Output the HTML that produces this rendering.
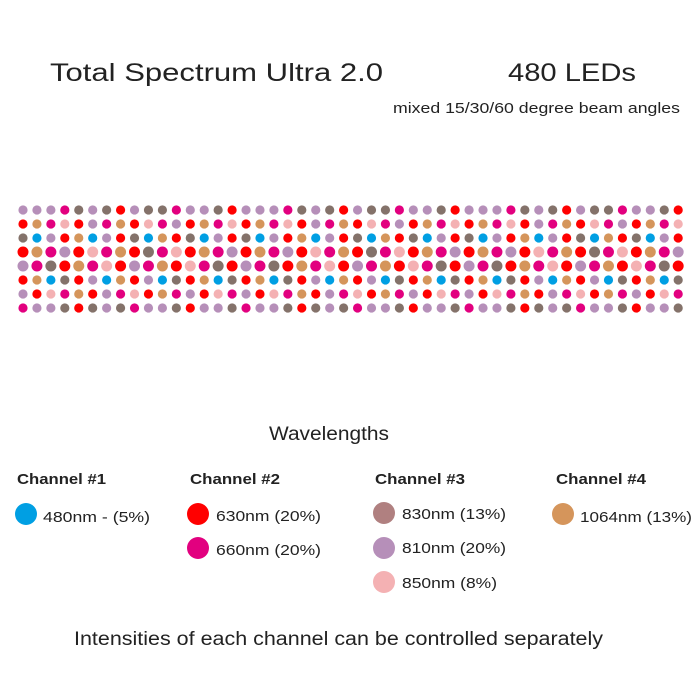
<!DOCTYPE html>
<html><head><meta charset="utf-8"><style>
body{margin:0;background:#fff;}
svg{display:block;font-family:"Liberation Sans",sans-serif;}
</style></head><body>
<svg width="700" height="700" viewBox="0 0 700 700">
<text x="50" y="81" font-size="25" fill="#222" textLength="333" lengthAdjust="spacingAndGlyphs">Total Spectrum Ultra 2.0</text>
<text x="508" y="81" font-size="25" fill="#222" textLength="128" lengthAdjust="spacingAndGlyphs">480 LEDs</text>
<text x="393" y="113" font-size="15" fill="#222" textLength="287" lengthAdjust="spacingAndGlyphs">mixed 15/30/60 degree beam angles</text>
<g id="grid"></g>
<text x="269" y="440" font-size="19" fill="#222" textLength="120" lengthAdjust="spacingAndGlyphs">Wavelengths</text>
<g font-weight="bold" font-size="15" fill="#222">
<text x="17" y="484" textLength="89" lengthAdjust="spacingAndGlyphs">Channel #1</text>
<text x="190" y="484" textLength="90" lengthAdjust="spacingAndGlyphs">Channel #2</text>
<text x="375" y="484" textLength="90" lengthAdjust="spacingAndGlyphs">Channel #3</text>
<text x="556" y="484" textLength="90" lengthAdjust="spacingAndGlyphs">Channel #4</text>
</g>
<g font-size="15" fill="#222">
<g><circle cx="26" cy="514" r="11" fill="#009fe3"/><text x="43" y="522" textLength="107" lengthAdjust="spacingAndGlyphs">480nm - (5%)</text></g>
<g><circle cx="198" cy="514" r="11" fill="#ff0000"/><text x="216" y="521" textLength="105" lengthAdjust="spacingAndGlyphs">630nm (20%)</text></g>
<g><circle cx="198" cy="548" r="11" fill="#e2007f"/><text x="216" y="555" textLength="105" lengthAdjust="spacingAndGlyphs">660nm (20%)</text></g>
<g><circle cx="384" cy="513" r="11" fill="#b08080"/><text x="402" y="519" textLength="104" lengthAdjust="spacingAndGlyphs">830nm (13%)</text></g>
<g><circle cx="384" cy="548" r="11" fill="#b68fb9"/><text x="402" y="553" textLength="104" lengthAdjust="spacingAndGlyphs">810nm (20%)</text></g>
<g><circle cx="384" cy="582" r="11" fill="#f4b1b3"/><text x="402" y="588" textLength="95" lengthAdjust="spacingAndGlyphs">850nm (8%)</text></g>
<g><circle cx="563" cy="514" r="11" fill="#d5955b"/><text x="580" y="522" textLength="112" lengthAdjust="spacingAndGlyphs">1064nm (13%)</text></g>
</g>
<text x="74" y="645" font-size="19" fill="#222" textLength="529" lengthAdjust="spacingAndGlyphs">Intensities of each channel can be controlled separately</text>
</svg>
<script>
const colors={L:"#b68fb9",M:"#e2007f",B:"#84726a",R:"#ff0000",O:"#d5955b",P:"#f4b1b3",C:"#009fe3"};
const rowPatterns=[
"LLLMBLBRLBBMLLBR",
"ROMPRLMORPMLROMP",
"BCLROCLRBCORBCLR",
"ROMLRPMORBMPROML",
"LMBROMPRLMORPMBR",
"ROCBRLCORLCBROCB",
"LRPMORLMPROMLRPM",
"MLLBRBLBMLLBRLLB"];
const repeats=3;
const g=document.getElementById('grid');
const ns="http://www.w3.org/2000/svg";
rowPatterns.forEach((pat,r)=>{
  const full=pat.repeat(repeats);
  for(let c=0;c<full.length;c++){
    const el=document.createElementNS(ns,'circle');
    el.setAttribute('cx',23+c*13.94);
    el.setAttribute('cy',210+r*14);
    el.setAttribute('r',(r===3||r===4)?5.5:4.6);
    el.setAttribute('fill',colors[full[c]]);
    
    
    g.appendChild(el);
  }
});
</script>
</body></html>
